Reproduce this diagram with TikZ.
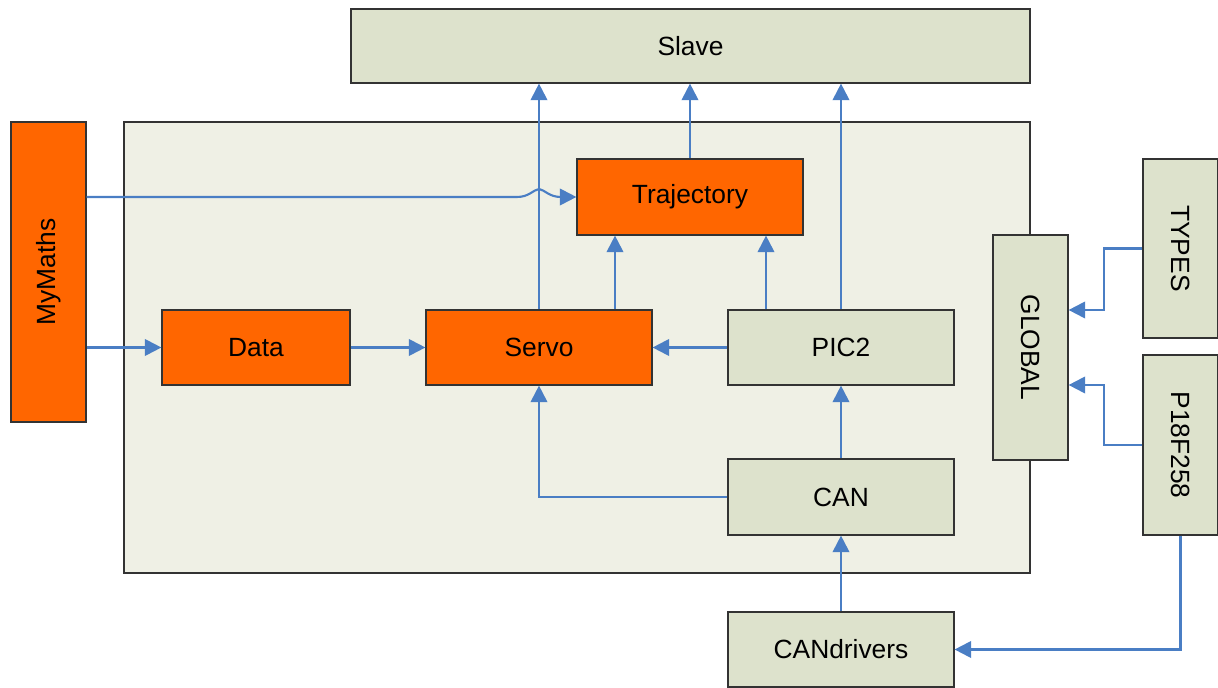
\documentclass[tikz,border=0pt]{standalone}
\usepackage{fontspec}
\setmainfont{Liberation Sans}
\usetikzlibrary{arrows.meta,calc,positioning}
\definecolor{boxgreen}{RGB}{221,226,204}
\definecolor{bggreen}{RGB}{239,240,229}
\definecolor{modorange}{RGB}{255,102,0}
\definecolor{linkblue}{RGB}{74,126,196}
\tikzset{
  module/.style={draw=black!80, line width=0.7pt, fill=boxgreen, inner sep=0pt,
    font=\fontsize{15}{18}\selectfont},
  hot/.style={module, fill=modorange},
  link/.style={draw=linkblue, line width=1.2pt, -{Triangle[length=3.3mm,width=3.3mm]}}
}
\begin{document}
\begin{tikzpicture}[x=0.02cm, y=-0.02cm]
  \useasboundingbox (0,0) rectangle (1218,688);
  % frame and modules
  \node[module, fill=bggreen, minimum width=18.12cm, minimum height=9.02cm] (main) at (577,347.5) {};
  \node[module, minimum width=13.58cm, minimum height=1.48cm] (slave) at (690.5,46) {Slave};
  \node[hot, rotate=90, minimum width=6cm, minimum height=1.5cm] (mymaths) at (48.5,272) {MyMaths};
  \node[hot, minimum width=4.52cm, minimum height=1.52cm] (traj) at (690,197) {Trajectory};
  \node[hot, minimum width=3.76cm, minimum height=1.5cm] (data) at (256,347.5) {Data};
  \node[hot, minimum width=4.52cm, minimum height=1.5cm] (servo) at (539,347.5) {Servo};
  \node[module, minimum width=4.52cm, minimum height=1.5cm] (pic) at (841,347.5) {PIC2};
  \node[module, minimum width=4.52cm, minimum height=1.52cm] (can) at (841,497) {CAN};
  \node[module, minimum width=4.52cm, minimum height=1.5cm] (candrv) at (841,649.5) {CANdrivers};
  \node[module, rotate=-90, minimum width=4.5cm, minimum height=1.5cm] (global) at (1030.5,347.5) {GLOBAL};
  \node[module, rotate=-90, minimum width=3.58cm, minimum height=1.5cm] (types) at (1180.5,248.5) {TYPES};
  \node[module, rotate=-90, minimum width=3.6cm, minimum height=1.5cm] (p18) at (1180.5,445) {P18F258};
  % links up to Slave
  \draw[link] (servo.north) -- (servo.north |- slave.south);
  \draw[link] (traj.north) -- (traj.north |- slave.south);
  \draw[link] (pic.north) -- (pic.north |- slave.south);
  \coordinate (sv) at ($(servo.north)+(76,0)$);
  \coordinate (pc) at ($(pic.north)+(-75,0)$);
  \draw[link] (sv) -- (sv |- traj.south);
  \draw[link] (pc) -- (pc |- traj.south);
  % MyMaths, with a hop over the Servo line
  \coordinate (hop) at (servo.north |- traj.west);
  \draw[link] (mymaths.south |- traj.west) -- ($(hop)+(-22,0)$)
    .. controls ($(hop)+(-10,0)$) and ($(hop)+(-6,-7)$) .. ($(hop)+(0,-8)$)
    .. controls ($(hop)+(6,-7)$) and ($(hop)+(10,0)$) .. ($(hop)+(22,0)$)
    -- (traj.west);
  \draw[link] (mymaths.south |- data.west) -- (data.west);
  \draw[link] (data.east) -- (servo.west);
  \draw[link] (pic.west) -- (servo.east);
  \draw[link] (can.west) -| (servo.south);
  \draw[link] (can.north) -- (pic.south);
  \draw[link] (candrv.north) -- (can.south);
  % GLOBAL inputs (rotated nodes: south is the left side, north the right side)
  \draw[link] (types.south) -- ++(-38,0) |- ($(global.north)+(0,-37.5)$);
  \draw[link] (p18.south) -- ++(-38,0) |- ($(global.north)+(0,37.5)$);
  \draw[link] (p18.east) |- (candrv.east);
\end{tikzpicture}
\end{document}
